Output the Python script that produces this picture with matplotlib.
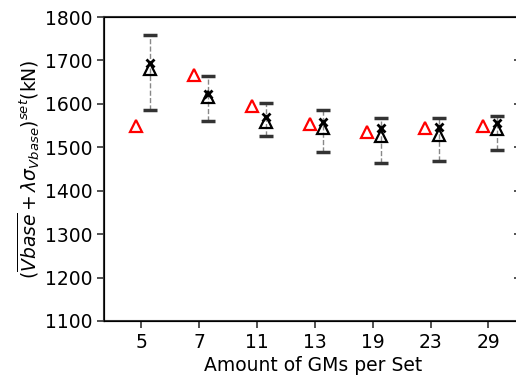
import matplotlib
matplotlib.use("Agg")
from matplotlib import pyplot as plt
import numpy as np

# GM set sizes and values (kN)
set_sizes = ["5", "7", "11", "13", "19", "23", "29"]
red_vals = [1549, 1666, 1595, 1554, 1536, 1544, 1549]
x_vals = [1694, 1623, 1570, 1559, 1544, 1547, 1555]
tri_vals = [1680, 1615, 1559, 1544, 1526, 1528, 1542]
err_low = [1586, 1560, 1526, 1490, 1463, 1469, 1494]
err_high = [1758, 1665, 1601, 1586, 1568, 1568, 1572]

pos = np.arange(len(set_sizes))
x_vals = np.array(x_vals)
yerr = [x_vals - np.array(err_low), np.array(err_high) - x_vals]

fig = plt.figure(figsize=(5.16, 3.78), dpi=100)
ax = fig.add_axes([0.2016, 0.1508, 0.8101, 0.8042])

# error bars: dashed grey stem, thick dark caps
eb = ax.errorbar(pos + 0.15, x_vals, yerr=yerr, fmt="none", ecolor="#888888",
                 elinewidth=1, capsize=5, capthick=2.5, zorder=2)
eb[2][0].set_linestyle("--")
for cap in eb[1]:
    cap.set_markeredgecolor("#333333")

ax.plot(pos + 0.15, tri_vals, "^", ms=9, mfc="none", mec="black", mew=1.6, ls="none", zorder=3)
ax.plot(pos + 0.15, x_vals, "x", ms=6, color="black", mew=2, ls="none", zorder=4)
ax.plot(pos - 0.09, red_vals, "^", ms=9, mfc="none", mec="red", mew=1.6, ls="none", zorder=3)

ax.set_xlim(-0.64, 6.58)
ax.set_ylim(1100, 1800)
ax.set_xticks(pos)
ax.set_xticklabels(set_sizes)
ax.set_yticks(np.arange(1100, 1801, 100))
ax.tick_params(labelsize=13.5, length=5, width=1.2, color="#333333")
for sp in ax.spines.values():
    sp.set_color("#333333")
    sp.set_linewidth(1.5)

# inward ticks on the right edge
ax2 = ax.twinx()
ax2.set_ylim(1100, 1800)
ax2.set_yticks(np.arange(1100, 1801, 100))
ax2.tick_params(direction="in", length=6, width=1.2, color="#333333", labelright=False)
ax2.spines["right"].set_visible(False)

ax.set_xlabel("Amount of GMs per Set", fontsize=13.5, labelpad=3)
ax.set_ylabel(r"$(\overline{Vbase}+\lambda\sigma_{Vbase})^{set}$(kN)", fontsize=13.5, labelpad=2)

plt.savefig("out.png", dpi=100)
